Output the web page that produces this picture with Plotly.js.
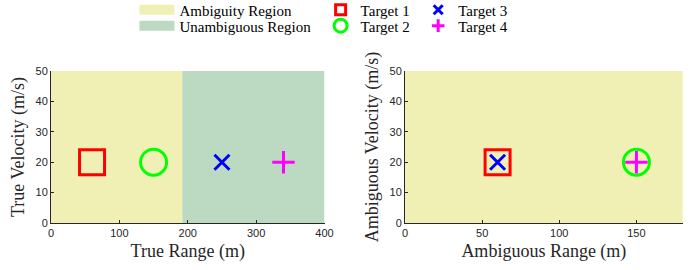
<!DOCTYPE html>
<html>
<head>
<meta charset="utf-8">
<script src="https://cdn.plot.ly/plotly-3.0.1.min.js"></script>
<style>html,body{margin:0;padding:0;background:#fff;}#chart{width:697px;height:270px;}</style>
</head>
<body>
<div id="chart"></div>
<script>
// ---- data ----
var targetNames = ['Target 1', 'Target 2', 'Target 3', 'Target 4'];
var trueRange = [60, 150, 250, 340];
var trueVelocity = [20, 20, 20, 20];
var ambRange = [60, 150, 60, 150];
var ambVelocity = [20, 20, 20, 20];
var regionNames = ['Ambiguity Region', 'Unambiguous Region'];
var maxUnambRange = 192;   // edge of the ambiguity region (m)
var maxTrueRange = 400;    // (m)
var maxAmbAxis = 180;      // (m)
var maxVelocity = 50;      // (m/s)
var xTicksTrue = [0, 100, 200, 300, 400];
var xTicksAmb = [0, 50, 100, 150];
var yTicks = [0, 10, 20, 30, 40, 50];

// ---- styles ----
var yellow = '#f0f0b4';
var green = '#bcd9c1';
var tColors = ['#ff0000', '#00ff00', '#0000ff', '#ff00ff'];
var tSymbols = ['square-open', 'circle-open', 'x-thin-open', 'cross-thin-open'];
var tSizes = [25, 26, 15, 16];
var legSizes = [10, 13, 9, 9];
var serif = 'Liberation Serif, Times New Roman, serif';

function rect(x0, x1, y0, y1) {
  return {x: [x0, x1, x1, x0, x0], y: [y0, y0, y1, y1, y0]};
}

var traces = [];
var rA = rect(0, maxUnambRange, 0, maxVelocity);
var rU = rect(maxUnambRange, maxTrueRange, 0, maxVelocity);
// regions, left
traces.push({x: rA.x, y: rA.y, type: 'scatter', mode: 'lines', fill: 'toself',
  fillcolor: yellow, line: {width: 0, color: yellow}, showlegend: false,
  hoverinfo: 'skip', xaxis: 'x', yaxis: 'y'});
traces.push({x: rU.x, y: rU.y, type: 'scatter', mode: 'lines', fill: 'toself',
  fillcolor: green, line: {width: 0, color: green}, showlegend: false,
  hoverinfo: 'skip', xaxis: 'x', yaxis: 'y'});
// region, right
traces.push({x: rA.x, y: rA.y, type: 'scatter', mode: 'lines', fill: 'toself',
  fillcolor: yellow, line: {width: 0, color: yellow}, showlegend: false,
  hoverinfo: 'skip', xaxis: 'x2', yaxis: 'y2'});

// legend entries for the regions
var regionColors = [yellow, green];
for (var r = 0; r < 2; r++) {
  traces.push({x: [null], y: [null], type: 'scatter', mode: 'lines', name: regionNames[r],
    line: {width: 12, color: regionColors[r]}, legend: r === 0 ? 'legend' : 'legend2',
    xaxis: 'x', yaxis: 'y', hoverinfo: 'skip'});
}

for (var i = 0; i < 4; i++) {
  traces.push({x: [trueRange[i]], y: [trueVelocity[i]], type: 'scatter', mode: 'markers',
    name: targetNames[i], showlegend: false,
    marker: {symbol: tSymbols[i], size: tSizes[i], color: tColors[i],
      line: {width: 3, color: tColors[i]}},
    xaxis: 'x', yaxis: 'y'});
}
var order = [0, 2, 1, 3];
for (var k = 0; k < 4; k++) {
  var j = order[k];
  traces.push({x: [ambRange[j]], y: [ambVelocity[j]], type: 'scatter', mode: 'markers',
    name: targetNames[j], showlegend: false,
    marker: {symbol: tSymbols[j], size: tSizes[j], color: tColors[j],
      line: {width: 3, color: tColors[j]}},
    xaxis: 'x2', yaxis: 'y2'});
}
// legend entries for the targets
var legIds = ['legend3', 'legend4', 'legend5', 'legend6'];
for (var m = 0; m < 4; m++) {
  traces.push({x: [null], y: [null], type: 'scatter', mode: 'markers', name: targetNames[m],
    legend: legIds[m],
    marker: {symbol: tSymbols[m], size: legSizes[m], color: tColors[m],
      line: {width: 3, color: tColors[m]}},
    xaxis: 'x', yaxis: 'y', hoverinfo: 'skip'});
}

var axBase = {
  showgrid: false, zeroline: false, showline: true, linecolor: '#262626', linewidth: 1,
  ticks: 'inside', ticklen: 3, tickcolor: '#262626', tickwidth: 1,
  tickfont: {family: 'Liberation Sans, Arial, sans-serif', size: 11, color: '#262626'},
  tickmode: 'array', fixedrange: true
};
function ax(extra) { return Object.assign({}, axBase, extra); }
var titleFont = {family: serif, size: 18, color: '#262626'};

function leg(x, y, w) {
  return {
    font: {family: serif, size: 15, color: '#000'},
    bgcolor: 'rgba(0,0,0,0)', borderwidth: 0, xanchor: 'left', yanchor: 'middle',
    x: x, y: y, itemsizing: 'trace', itemwidth: w || 30
  };
}
var row1 = 0.963, row2 = 0.904;

var layout = {
  width: 697, height: 270,
  margin: {l: 0, r: 0, t: 0, b: 0, autoexpand: false},
  paper_bgcolor: '#fff', plot_bgcolor: '#fff',
  font: {family: serif, color: '#000'},
  showlegend: true,
  xaxis: ax({domain: [0.0732, 0.4656], range: [0, maxTrueRange], tickvals: xTicksTrue,
    anchor: 'y', title: {text: 'True Range (m)', font: titleFont, standoff: 6}}),
  yaxis: ax({domain: [0.174, 0.737], range: [0, maxVelocity], tickvals: yTicks,
    anchor: 'x', title: {text: 'True Velocity (m/s)', font: titleFont, standoff: 6}}),
  xaxis2: ax({domain: [0.5811, 0.9795], range: [0, maxAmbAxis], tickvals: xTicksAmb,
    anchor: 'y2', title: {text: 'Ambiguous Range (m)', font: titleFont, standoff: 6}}),
  yaxis2: ax({domain: [0.174, 0.737], range: [0, maxVelocity], tickvals: yTicks,
    anchor: 'x2', title: {text: 'Ambiguous Velocity (m/s)', font: titleFont, standoff: 6}}),
  legend: leg(0.1929, row1, 35),
  legend2: leg(0.1929, row2, 35),
  legend3: leg(0.46, row1),
  legend4: leg(0.46, row2),
  legend5: leg(0.60, row1),
  legend6: leg(0.60, row2)
};

Plotly.newPlot('chart', traces, layout, {displayModeBar: false, staticPlot: true});
</script>
</body>
</html>
